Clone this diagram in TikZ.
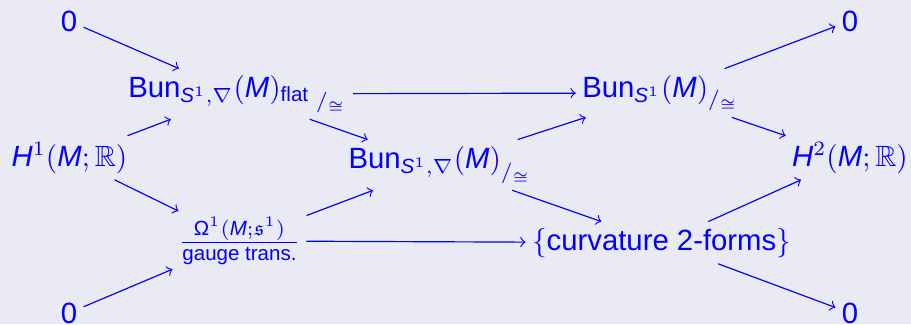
\documentclass[tikz,border=0pt]{standalone}
\usepackage{amsmath,amssymb}
\usepackage{fontspec}
\setmainfont{Liberation Sans}
\usetikzlibrary{arrows}
\definecolor{slidebg}{RGB}{234,234,245}

\begin{document}
\begin{tikzpicture}[x=0.012cm,y=-0.012cm,color=blue,
	every node/.style={anchor=base,text=blue,inner sep=2pt}]
	\fill[slidebg] (0,0) rectangle (911,324);
	\useasboundingbox (0,0) rectangle (911,324);
	% left column
	\node (zeroTL) at (69,31) {0};
	\node (hone) at (69.5,166) {$\mathit{H}^1(\mathit{M};\mathbb{R})$};
	\node (zeroBL) at (69,323) {0};
	% second column
	\node (bunflat) at (237.5,97) {${\mathrm{Bun}_{\mathit{S}^1,\nabla}(\mathit{M})_{\mathrm{flat}}}_{\;/_{\cong}}$};
	\node (forms) at (239.5,250) {$\frac{\text{Ω}^1(\mathit{M};\mathfrak{s}^1)}{\text{gauge trans.}}$};
	% middle
	\node (bunmid) at (440,168) {${\mathrm{Bun}_{\mathit{S}^1,\nabla}(\mathit{M})}_{/_{\cong}}$};
	% fourth column
	\node (bunS) at (660.5,97) {${\mathrm{Bun}_{\mathit{S}^1}(\mathit{M})}_{/_{\cong}}$};
	\node (curv) at (661.5,250) {$\{\text{curvature 2-forms}\}$};
	% right column
	\node (zeroTR) at (850,31) {0};
	\node (htwo) at (850,166) {$\mathit{H}^2(\mathit{M};\mathbb{R})$};
	\node (zeroBR) at (850,323) {0};
	% arrows
	\draw[->] (zeroTL) -- (bunflat);
	\draw[->] (hone) -- (bunflat);
	\draw[->] (hone) -- (forms);
	\draw[->] (zeroBL) -- (forms);
	\draw[->] (bunflat) -- (bunmid);
	\draw[->] (forms) -- (bunmid);
	\draw[->] (bunflat) -- (bunS);
	\draw[->] (forms) -- (curv);
	\draw[->] (bunmid) -- (bunS);
	\draw[->] (bunmid) -- (curv);
	\draw[->] (bunS) -- (zeroTR);
	\draw[->] (bunS) -- (htwo);
	\draw[->] (curv) -- (htwo);
	\draw[->] (curv) -- (zeroBR);
\end{tikzpicture}
\end{document}
